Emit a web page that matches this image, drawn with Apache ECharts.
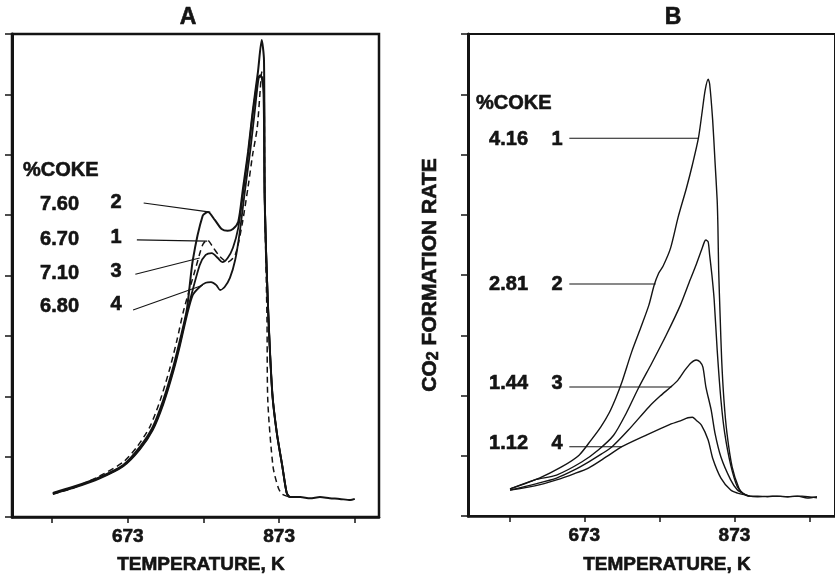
<!DOCTYPE html>
<html><head><meta charset="utf-8">
<script src="https://cdn.jsdelivr.net/npm/echarts@6/dist/echarts.min.js"></script>
<style>html,body{margin:0;padding:0;background:#fff}#c{width:835px;height:581px}</style>
</head><body><div id="c"></div>
<script>
// ---------- axis ticks ----------
const xTickValues = [573, 673, 773, 873, 973];
const xLabelValues = [673, 873];
const panelTitles = ['A', 'B'];

// ---------- Panel A (temperature K, CO2 formation rate arb.) ----------
const a1T = [574,601,636,667,685,702,716,729,738,747,762,772,778,786,795,805,815,824,832,838,844,848,850,853,854,857,858,865,872,877,887];
const a1Y = [0.38,0.48,0.68,0.91,1.16,1.49,1.94,2.48,2.93,3.43,4.09,4.51,4.59,4.46,4.31,4.22,4.34,4.84,5.47,6.00,6.44,7.07,7.37,7.07,5.25,3.26,1.94,0.83,0.48,0.38,0.33];
const a2T = [574,601,636,667,689,706,720,733,742,751,759,772,779,788,797,805,812,819,825,832,838,845,850,853,854,858,864,870,877,883,887,901,914,927,940,953,967,973];
const a2Y = [0.40,0.50,0.66,0.86,1.16,1.49,1.94,2.48,2.93,3.43,4.26,4.99,5.05,4.92,4.77,4.74,4.77,4.89,5.42,6.05,6.71,7.37,7.90,7.57,5.25,3.59,2.05,1.39,0.86,0.40,0.33,0.33,0.31,0.33,0.31,0.30,0.28,0.30];
const a3T = [574,601,636,667,689,706,720,733,742,751,768,776,784,792,798,805,812,819,825,832,838,845,848,852,854,858,864,870,877,883,887];
const a3Y = [0.39,0.49,0.65,0.85,1.13,1.46,1.90,2.44,2.88,3.38,4.17,4.34,4.37,4.29,4.22,4.29,4.46,4.79,5.33,6.00,6.66,7.27,7.32,7.16,5.25,3.59,2.05,1.39,0.86,0.40,0.33];
const a4T = [574,601,636,667,689,706,720,733,742,751,759,768,776,783,790,795,801,808,815,821,828,835,841,846,849,853,854,858,864,870,877,883,887];
const a4Y = [0.38,0.48,0.64,0.84,1.12,1.44,1.87,2.40,2.84,3.33,3.68,3.81,3.88,3.89,3.84,3.76,3.81,3.96,4.26,4.72,5.42,6.08,6.74,7.27,7.30,6.99,5.25,3.59,2.05,1.39,0.86,0.40,0.33];

// ---------- Panel B ----------
const b1T = [574,613,642,666,682,695,706,715,723,736,748,759,766,772,778,788,798,809,817,825,830,834,838,840,844,847,850,851,852,854,856,859,863,870,879,885,893,904,917,930,944,957,970,983];
const b1Y = [0.45,0.63,0.81,1.01,1.26,1.48,1.71,1.96,2.22,2.72,3.12,3.50,3.83,4.03,4.15,4.45,4.96,5.44,5.83,6.27,6.71,7.07,7.25,7.17,6.57,5.91,5.24,4.80,4.08,3.30,2.59,1.93,1.38,0.81,0.46,0.37,0.33,0.33,0.32,0.33,0.32,0.33,0.30,0.32];
const b2T = [574,607,636,670,692,712,729,745,763,782,801,814,822,829,833,835,838,840,843,846,850,855,860,868,877,885,893,904,924,944,963,983];
const b2Y = [0.45,0.60,0.68,0.90,1.10,1.34,1.71,2.12,2.54,3.00,3.50,3.92,4.17,4.41,4.55,4.58,4.55,4.33,4.00,3.59,2.76,1.93,1.38,0.85,0.48,0.37,0.33,0.32,0.33,0.32,0.33,0.30];
const b3T = [574,607,636,659,679,696,710,732,759,774,788,798,807,815,822,827,831,835,842,847,855,868,877,885,893];
const b3Y = [0.43,0.53,0.63,0.76,0.90,1.03,1.15,1.43,1.81,1.99,2.14,2.26,2.42,2.54,2.59,2.56,2.47,2.14,1.76,1.38,0.98,0.60,0.43,0.37,0.33];
const b4T = [574,607,636,659,679,702,723,755,785,801,811,817,822,829,838,844,855,868,877,887,893];
const b4Y = [0.43,0.50,0.60,0.70,0.80,0.98,1.15,1.34,1.51,1.58,1.63,1.64,1.59,1.51,1.26,0.96,0.63,0.43,0.38,0.35,0.33];

// ---------- annotation (leader) lines: [T0, y0, T1, y1] ----------
const leadersA = [[694,5.20,782,5.05],[685,4.59,778,4.57],[683,4.02,768,4.29],[680,3.43,772,3.84]];
const leadersB = [[653,6.27,825,6.27],[653,3.85,768,3.85],[653,2.14,789,2.14],[653,1.15,723,1.15]];
const cokeA = ['7.60','6.70','7.10','6.80'];
const idsA = ['2','1','3','4'];
const cokeB = ['4.16','2.81','1.44','1.12'];
const idsB = ['1','2','3','4'];

const FONT = '"Liberation Sans", Arial, Helvetica, sans-serif';
const INK = '#141414';
function pairs(t, y) { return t.map((v, i) => [v, y[i]]); }

function xAx(idx, min, max) {
  return {
    type: 'value', gridIndex: idx, min: min, max: max,
    splitLine: {show: false},
    axisLine: {show: true, onZero: false, lineStyle: {color: INK, width: 2.5}},
    axisTick: {show: true, inside: false, length: 6, customValues: xTickValues, lineStyle: {color: INK, width: 1.5}},
    axisLabel: {show: true, customValues: xLabelValues, margin: 10, color: INK, fontSize: 19, fontWeight: 'bold', fontFamily: FONT,
      textBorderColor: INK, textBorderWidth: 0.6}
  };
}
function yAx(idx, extra) {
  return Object.assign({
    type: 'value', gridIndex: idx, min: 0, max: 8, interval: 1,
    splitLine: {show: false},
    axisLine: {show: true, onZero: false, lineStyle: {color: INK, width: 3}},
    axisTick: {show: true, inside: false, length: 7, lineStyle: {color: INK, width: 1.5}},
    axisLabel: {show: false}
  }, extra || {});
}
function curve(t, y, xi, w, dashed) {
  return {
    type: 'line', xAxisIndex: xi, yAxisIndex: xi, data: pairs(t, y),
    showSymbol: false, symbol: 'none', smooth: 0.25, silent: true,
    lineStyle: {color: INK, width: w, type: dashed ? [6, 4] : 'solid'}
  };
}
function leader(l, xi) {
  return {
    type: 'line', xAxisIndex: xi, yAxisIndex: xi, data: [[l[0], l[1]], [l[2], l[3]]],
    showSymbol: false, symbol: 'none', silent: true,
    lineStyle: {color: INK, width: 1.1}
  };
}
function txt(s, x, y, size, align) {
  return {type: 'text', x: x, y: y, silent: true,
    style: {text: s, font: 'bold ' + size + 'px ' + FONT, fill: INK, stroke: INK, lineWidth: 0.6,
      align: align || 'left', verticalAlign: 'middle'}};
}

const graphics = [
  txt(panelTitles[0], 188, 18, 23, 'center'),
  txt(panelTitles[1], 673, 18, 23, 'center'),
  txt('TEMPERATURE, K', 201, 565, 19, 'center'),
  txt('TEMPERATURE, K', 667, 565, 19, 'center'),
  txt('%COKE', 23, 170, 20, 'left'),
  txt('%COKE', 476, 103, 20, 'left')
];
const yA = [204, 239, 273, 306];
cokeA.forEach((c, i) => { graphics.push(txt(c, 79, yA[i], 20, 'right')); graphics.push(txt(idsA[i], 116, yA[i] - 2, 20, 'center')); });
const yB = [139, 284, 383, 443];
cokeB.forEach((c, i) => { graphics.push(txt(c, 528, yB[i], 20, 'right')); graphics.push(txt(idsB[i], 557, yB[i], 20, 'center')); });

const series = [
  curve(a2T, a2Y, 0, 2.0, false),
  curve(a3T, a3Y, 0, 1.8, false),
  curve(a4T, a4Y, 0, 1.8, false),
  curve(a1T, a1Y, 0, 1.5, true),
  curve(b1T, b1Y, 1, 1.4, false),
  curve(b2T, b2Y, 1, 1.4, false),
  curve(b3T, b3Y, 1, 1.4, false),
  curve(b4T, b4Y, 1, 1.4, false)
];
leadersA.forEach(l => series.push(leader(l, 0)));
leadersB.forEach(l => series.push(leader(l, 1)));

const chart = echarts.init(document.getElementById('c'), null, {renderer: 'canvas'});
chart.setOption({
  animation: false,
  backgroundColor: '#ffffff',
  grid: [
    {left: 12, top: 34, width: 367, height: 483, show: true, borderColor: INK, borderWidth: 2.5, backgroundColor: 'transparent'},
    {left: 468, top: 34, width: 370, height: 482, show: true, borderColor: INK, borderWidth: 2, backgroundColor: 'transparent'}
  ],
  xAxis: [xAx(0, 520, 1005), xAx(1, 518, 1007)],
  yAxis: [
    yAx(0),
    yAx(1, {
      name: '{a|CO}{s|2}{a| FORMATION RATE}', nameLocation: 'middle', nameRotate: 90, nameGap: 26,
      nameTextStyle: {rich: {
        a: {fontSize: 21, fontWeight: 'bold', fontFamily: FONT, color: INK, lineHeight: 24, textBorderColor: INK, textBorderWidth: 0.6},
        s: {fontSize: 16, fontWeight: 'bold', fontFamily: FONT, color: INK, lineHeight: 24, verticalAlign: 'bottom', textBorderColor: INK, textBorderWidth: 0.6}
      }}
    })
  ],
  graphic: graphics,
  series: series
});
</script></body></html>
